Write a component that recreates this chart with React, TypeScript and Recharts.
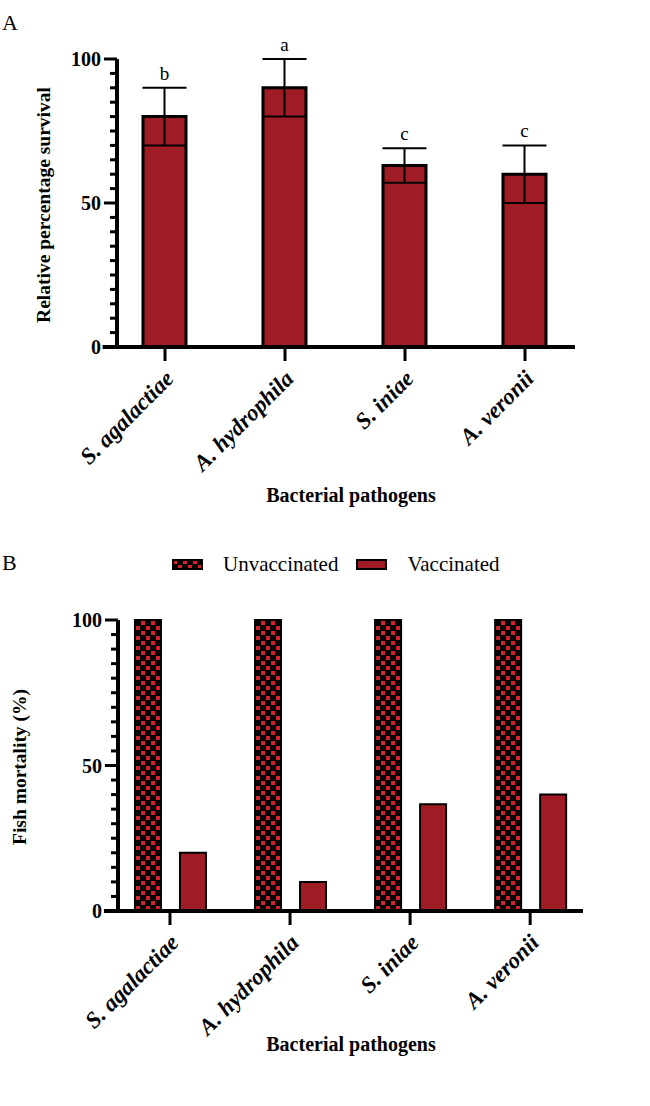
import React from 'react';
import { BarChart, Bar, XAxis, YAxis, ErrorBar, LabelList, Label, ReferenceLine } from 'recharts';

// shared categories
const pathogens = ['S. agalactiae', 'A. hydrophila', 'S. iniae', 'A. veronii'];

// panel A: relative percentage survival
const survival = [80, 90, 63, 60];
const survivalErr = [10, 10, 6, 10];
const sigLetters = ['b', 'a', 'c', 'c'];

// panel B: fish mortality (%)
const unvaccinated = [100, 100, 100, 100];
const vaccinated = [20, 10, 36.7, 40];

const yTicks = [0, 5, 10, 15, 20, 25, 30, 35, 40, 45, 50, 55, 60, 65, 70, 75, 80, 85, 90, 95, 100];

const FONT = "'Liberation Serif', 'Times New Roman', Tinos, serif";
const BAR_RED = '#A01C24';
const CHECK_RED = '#D2232D';

const dataA = pathogens.map((name, i) => ({
    idx: i,
    name,
    value: survival[i],
    err: survivalErr[i],
    letter: sigLetters[i],
}));

const dataB = pathogens.map((name, i) => ({
    idx: i,
    name,
    unvaccinated: unvaccinated[i],
    vaccinated: vaccinated[i],
}));

const YTick = (props: any) => {
    const { x, y, payload } = props;
    const major = payload.value % 50 === 0;
    return (
        <g>
            <line x1={x - (major ? 13 : 7)} x2={x} y1={y} y2={y} stroke="#000" strokeWidth={3} />
            {major && (
                <text x={x - 16} y={y} textAnchor="end" dominantBaseline="central"
                    style={{ fontFamily: FONT }} fontWeight="bold" fontSize={20} fill="#000">
                    {payload.value}
                </text>
            )}
        </g>
    );
};

const XTick = (props: any) => {
    const { x, y, payload } = props;
    const tx = x + 10;
    const ty = y + 33;
    return (
        <g>
            <line x1={x} x2={x} y1={y} y2={y + 14} stroke="#000" strokeWidth={3} />
            <text x={tx} y={ty} textAnchor="end" transform={`rotate(-45 ${tx} ${ty})`}
                style={{ fontFamily: FONT }} fontWeight="bold" fontStyle="italic" fontSize={23} fill="#000">
                {pathogens[payload.value]}
            </text>
        </g>
    );
};

const LetterLabel = (props: any) => {
    const { x, y, width, height, index } = props;
    const pxPerUnit = height / survival[index];
    const top = y - survivalErr[index] * pxPerUnit;
    return (
        <text x={x + width / 2} y={top - 8} textAnchor="middle"
            style={{ fontFamily: FONT }} fontSize={19} fill="#000">
            {sigLetters[index]}
        </text>
    );
};

const axisTitle = (text: string, x: number, y: number) => () => (
    <text x={x} y={y} textAnchor="middle" transform={`rotate(-90 ${x} ${y})`}
        style={{ fontFamily: FONT }} fontWeight="bold" fontSize={19.5} fill="#000">
        {text}
    </text>
);

const xTitle = (y: number) => () => (
    <text x={351} y={y} textAnchor="middle" style={{ fontFamily: FONT }} fontWeight="bold" fontSize={20} fill="#000">
        Bacterial pathogens
    </text>
);

const Swatch = ({ checker }: { checker?: boolean }) => (
    <svg width={31} height={11} style={{ display: 'block' }}>
        <defs>
            <pattern id="checkerLegend" width="10" height="10" patternUnits="userSpaceOnUse">
                <rect width="10" height="10" fill="#000" />
                <rect x="1" y="1" width="4" height="4" fill={CHECK_RED} />
                <rect x="6" y="6" width="4" height="4" fill={CHECK_RED} />
            </pattern>
        </defs>
        <rect x={1} y={1} width={29} height={9} fill={checker ? 'url(#checkerLegend)' : BAR_RED} stroke="#000" strokeWidth={2} />
    </svg>
);

export default function App() {
    return (
        <div style={{ position: 'absolute', left: 0, top: 0, width: 650, height: 1106, background: '#fff', fontFamily: FONT }}>
            <div style={{ position: 'absolute', left: 2, top: 10, fontSize: 22, lineHeight: '26px' }}>A</div>
            <div style={{ position: 'absolute', left: 2, top: 550, fontSize: 22, lineHeight: '26px' }}>B</div>

            <div style={{ position: 'absolute', left: 0, top: 0 }}>
                <BarChart width={650} height={520} data={dataA} margin={{ top: 59, right: 75, bottom: 0, left: 0 }}>
                    <XAxis dataKey="idx" type="number" domain={[-0.4, 3.4167]} ticks={[0, 1, 2, 3]}
                        height={173} tickSize={0} tickMargin={0} tickLine={false}
                        axisLine={{ stroke: '#000', strokeWidth: 4 }} tick={<XTick />} interval={0}>
                        <Label content={xTitle(502)} />
                    </XAxis>
                    <YAxis domain={[0, 100]} ticks={yTicks} width={117} tickSize={0} tickMargin={0}
                        tickLine={false} axisLine={{ stroke: '#000', strokeWidth: 4 }} tick={<YTick />} interval={0}>
                        <Label content={axisTitle('Relative percentage survival', 50, 205)} />
                    </YAxis>
                    <ReferenceLine segment={[{ x: -0.52, y: 0 }, { x: -0.4, y: 0 }]} stroke="#000" strokeWidth={4} ifOverflow="visible" />
                    <Bar dataKey="value" barSize={43} fill={BAR_RED} stroke="#000" strokeWidth={3} isAnimationActive={false}>
                        <ErrorBar dataKey="err" direction="y" width={22} stroke="#000" strokeWidth={2} />
                        <LabelList dataKey="letter" content={<LetterLabel />} />
                    </Bar>
                </BarChart>
            </div>

            <div style={{ position: 'absolute', left: 172, top: 551, display: 'flex', alignItems: 'center', fontSize: 21, lineHeight: '26px' }}>
                <Swatch checker />
                <span style={{ marginLeft: 20 }}>Unvaccinated</span>
                <span style={{ marginLeft: 18 }}><Swatch /></span>
                <span style={{ marginLeft: 20 }}>Vaccinated</span>
            </div>

            <div style={{ position: 'absolute', left: 0, top: 530 }}>
                <BarChart width={650} height={576} data={dataB} margin={{ top: 90, right: 67, bottom: 0, left: 0 }} barGap={19}>
                    <defs>
                        <pattern id="checker" width="10" height="10" patternUnits="userSpaceOnUse">
                            <rect width="10" height="10" fill="#000" />
                            <rect x="1" y="1" width="4" height="4" fill={CHECK_RED} />
                            <rect x="6" y="6" width="4" height="4" fill={CHECK_RED} />
                        </pattern>
                    </defs>
                    <XAxis dataKey="idx" type="number" domain={[-0.433, 3.44]} ticks={[0, 1, 2, 3]}
                        height={195} tickSize={0} tickMargin={0} tickLine={false}
                        axisLine={{ stroke: '#000', strokeWidth: 4 }} tick={<XTick />} interval={0}>
                        <Label content={xTitle(521)} />
                    </XAxis>
                    <YAxis domain={[0, 100]} ticks={yTicks} width={118} tickSize={0} tickMargin={0}
                        tickLine={false} axisLine={{ stroke: '#000', strokeWidth: 4 }} tick={<YTick />} interval={0}>
                        <Label content={axisTitle('Fish mortality (%)', 26, 237)} />
                    </YAxis>
                    <ReferenceLine segment={[{ x: -0.55, y: 0 }, { x: -0.433, y: 0 }]} stroke="#000" strokeWidth={4} ifOverflow="visible" />
                    <Bar dataKey="unvaccinated" barSize={26} fill="url(#checker)" stroke="#000" strokeWidth={2} isAnimationActive={false} />
                    <Bar dataKey="vaccinated" barSize={26} fill={BAR_RED} stroke="#000" strokeWidth={2} isAnimationActive={false} />
                </BarChart>
            </div>
        </div>
    );
}
